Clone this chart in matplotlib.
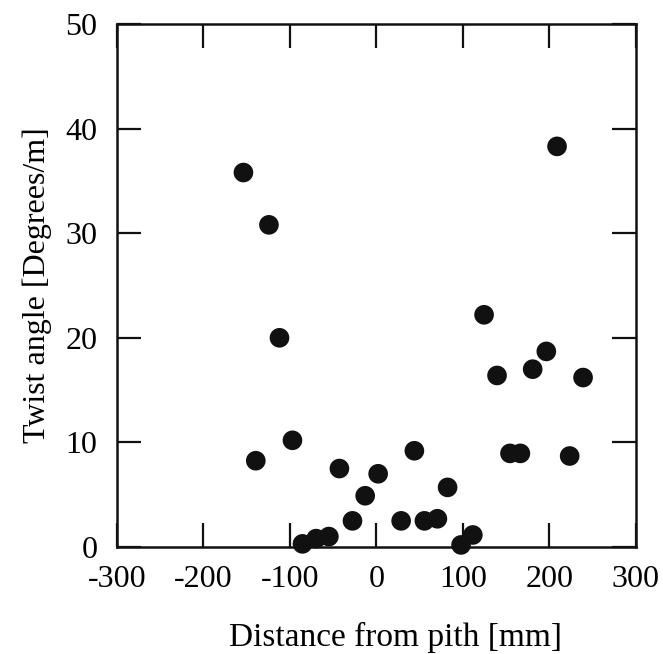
import matplotlib
matplotlib.use("Agg")
import matplotlib.pyplot as plt

# Distance from pith [mm] and twist angle [degrees/m]
distance = [-153.8, -139.5, -124.3, -112.1, -97.1, -85.5, -69.7, -55.0,
            -42.8, -27.7, -13.0, 2.0, 28.6, 43.9, 55.5, 70.5, 82.3, 97.9,
            111.5, 124.5, 139.5, 154.5, 166.5, 180.7, 196.5, 208.9, 223.5, 239.0]
twist = [35.8, 8.25, 30.8, 20.0, 10.2, 0.3, 0.8, 1.0,
         7.5, 2.5, 4.9, 7.0, 2.5, 9.2, 2.5, 2.7, 5.7, 0.2,
         1.15, 22.2, 16.4, 8.95, 8.95, 17.0, 18.7, 38.3, 8.7, 16.2]

x_ticks = [-300, -200, -100, 0, 100, 200, 300]
y_ticks = [0, 10, 20, 30, 40, 50]

plt.rcParams['font.family'] = ['Liberation Serif', 'DejaVu Serif']

fig = plt.figure(figsize=(6.63, 6.54), dpi=100)
ax = fig.add_axes([0.1765, 0.1636, 0.7825, 0.7997])

ax.scatter(distance, twist, s=200, color='#111111', edgecolors='none',
           zorder=3, clip_on=False)

ax.set_xlim(-300, 300)
ax.set_ylim(0, 50)
ax.set_xticks(x_ticks)
ax.set_yticks(y_ticks)
ax.set_xticklabels([str(v) for v in x_ticks])

ax.tick_params(direction='in', length=17, width=1.6, labelsize=23,
               top=True, right=True, color='#111111')
ax.tick_params(axis='x', pad=13)
ax.tick_params(axis='y', pad=14)
for sp in ax.spines.values():
    sp.set_linewidth(1.8)
    sp.set_color('#111111')

ax.set_xlabel("Distance from pith [mm]", fontsize=24)
ax.xaxis.label.set_va('baseline')
ax.xaxis.set_label_coords(0.536, -0.19)
ax.set_ylabel("Twist angle [Degrees/m]", fontsize=23, labelpad=10)

plt.savefig('out.png', dpi=100)
plt.close()
